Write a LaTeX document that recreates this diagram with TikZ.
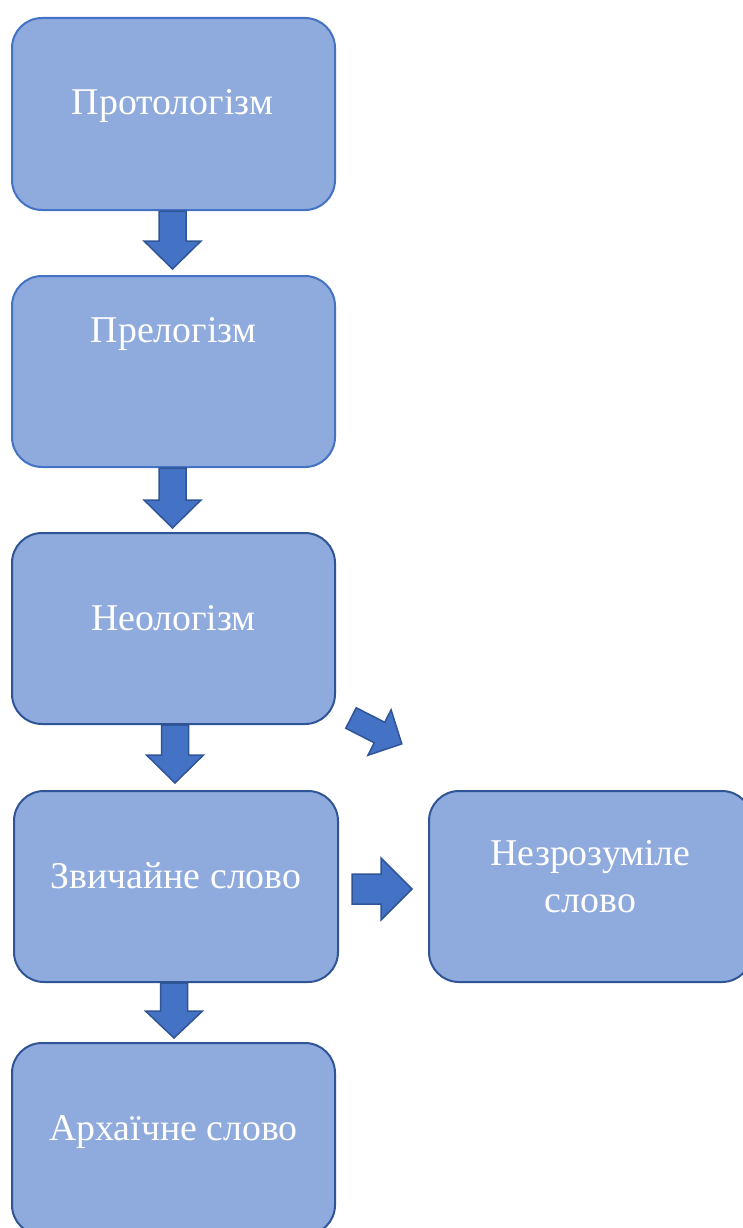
\documentclass[tikz,border=0pt]{standalone}
\usepackage{fontspec}
\setmainfont{Liberation Serif}
\usetikzlibrary{calc}
\definecolor{boxfill}{HTML}{8FAADC}
\definecolor{lightedge}{HTML}{4472C4}
\definecolor{darkedge}{HTML}{2F5597}
\definecolor{arrfill}{HTML}{4472C4}
\tikzset{
  stepbox/.style={draw=darkedge, line width=2pt, fill=boxfill, rounded corners=30pt, inner sep=0pt},
  txt/.style={text=white, font=\fontsize{37.8}{45}\selectfont, inner sep=0pt, anchor=base},
  blockarrow/.style={draw=darkedge, fill=arrfill, line width=1.5pt, line join=miter},
}
% #1 start point, #2 angle, #3 length, #4 shaft width, #5 head width, #6 head length
\newcommand\myblockarrow[6]{%
  \draw[blockarrow, shift={#1}, rotate=#2]
    (0,-#4/2) -- (#3-#6,-#4/2) -- (#3-#6,-#5/2) -- (#3,0) -- (#3-#6,#5/2)
    -- (#3-#6,#4/2) -- (0,#4/2) -- cycle;}
\begin{document}
\begin{tikzpicture}[x=1pt,y=-1pt]
\useasboundingbox (0,0) rectangle (742,1228);
% boxes
\node[stepbox, draw=lightedge, minimum width=323pt, minimum height=192pt] (b1) at (173.5,114) {};
\node[stepbox, draw=lightedge, minimum width=323pt, minimum height=191pt] (b2) at (173.5,371.5) {};
\node[stepbox, minimum width=323pt, minimum height=191pt] (b3) at (173.5,628.5) {};
\node[stepbox, minimum width=324pt, minimum height=191pt] (b4) at (176,886.5) {};
\node[stepbox, minimum width=323pt, minimum height=192pt] (b5) at (173.5,1139) {};
\node[stepbox, minimum width=323pt, minimum height=191pt] (b6) at (590.5,886.5) {};
% texts (placed by baseline)
\node[txt] (t1) at ($(b1.center)+(-1,1)$) {Протологізм};
\node[txt] (t2) at ($(b2.center)+(0,-29.5)$) {Прелогізм};
\node[txt] (t3) at ($(b3.center)+(0,1.5)$) {Неологізм};
\node[txt] (t4) at ($(b4.center)+(0,1.5)$) {Звичайне слово};
\node[txt] (t5) at ($(b5.center)+(0,1)$) {Архаїчне слово};
\node[txt] (t6a) at ($(b6.center)+(0,-21.5)$) {Незрозуміле};
\node[txt] (t6b) at ($(b6.center)+(0,25.5)$) {слово};
% block arrows
\myblockarrow{($(b1.south)+(-1,0)$)}{-90}{58}{27}{57}{28}
\myblockarrow{($(b2.south)+(-1,0)$)}{-90}{60}{27}{57}{28}
\myblockarrow{($(b3.south)+(1.5,0)$)}{-90}{58}{27}{57}{28}
\myblockarrow{($(b4.south)+(-2,0)$)}{-90}{55}{27}{57}{27}
\myblockarrow{($(b4.east)+(13,2.5)$)}{0}{60}{30}{62}{31}
\myblockarrow{($(b3.south east)+(15,-7)$)}{-27}{57}{23}{51}{25}
\end{tikzpicture}
\end{document}
